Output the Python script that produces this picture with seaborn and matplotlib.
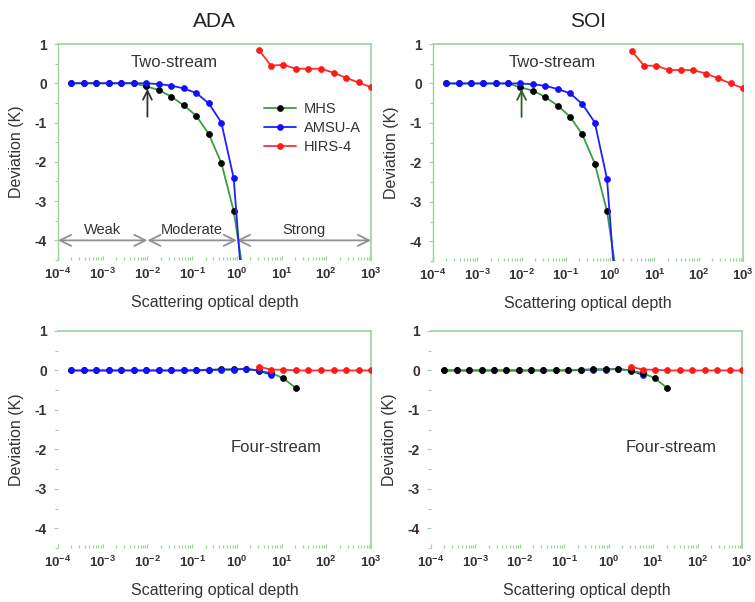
import numpy as np
import pandas as pd
import matplotlib
matplotlib.use("Agg")
import matplotlib.pyplot as plt
import seaborn as sns
from matplotlib.ticker import LogLocator, FixedLocator, NullFormatter

sns.set_theme(style="white")
plt.rcParams['font.family'] = ['Liberation Sans', 'DejaVu Sans']
plt.rcParams['mathtext.fontset'] = 'custom'
plt.rcParams['mathtext.rm'] = 'Liberation Sans'
plt.rcParams['mathtext.bf'] = 'Liberation Sans:bold'

# ---------------- data ----------------
tau = [2.0e-4, 3.8e-4, 7.2e-4, 1.37e-3, 2.6e-3, 5.0e-3, 9.4e-3, 0.018, 0.034,
       0.065, 0.124, 0.235, 0.45, 0.85, 1.6, 3.1, 5.8, 11, 21, 40, 76, 145,
       277, 526, 1000]

panels = ["ADA", "SOI"]
sensors = ["MHS", "AMSU-A", "HIRS-4"]

# Two-stream
ada2_mhs = [0, 0, 0, 0, 0, 0, -0.08, -0.17, -0.34, -0.56, -0.83, -1.29, -2.03, -3.25, -5.3]
ada2_amsu = [0, 0, 0, 0, 0, 0, 0, -0.02, -0.06, -0.13, -0.25, -0.51, -1.0, -2.42, -6.5]
ada2_hirs = [0.85, 0.45, 0.47, 0.37, 0.37, 0.37, 0.27, 0.14, 0.02, -0.1]
soi2_mhs = [0, 0, 0, 0, 0, 0, -0.1, -0.18, -0.34, -0.56, -0.84, -1.29, -2.03, -3.24, -5.3]
soi2_amsu = [0, 0, 0, 0, 0, 0, 0, -0.02, -0.06, -0.14, -0.25, -0.52, -0.99, -2.42, -6.5]
soi2_hirs = [0.82, 0.45, 0.45, 0.34, 0.34, 0.34, 0.25, 0.13, 0.0, -0.12]

# Four-stream
ada4_mhs = [0, 0, 0, 0, 0, 0, 0, 0, 0, 0, 0.01, 0.02, 0.03, 0.03, 0.04, -0.01, -0.06, -0.2, -0.45]
ada4_amsu = [0, 0, 0, 0, 0, 0, 0, 0, 0, 0, 0, 0.01, 0.02, 0.02, 0.04, 0.0, -0.11]
ada4_hirs = [0.1, 0.02, 0.02, 0, 0, 0, 0, 0, 0, 0]
soi4_mhs = [0, 0, 0, 0, 0, 0, 0, 0, 0, 0, 0.01, 0.02, 0.03, 0.03, 0.04, -0.01, -0.06, -0.2, -0.45]
soi4_amsu = [0, 0, 0, 0, 0, 0, 0, 0, 0, 0, 0, 0.01, 0.02, 0.02, 0.04, 0.0, -0.11]
soi4_hirs = [0.1, 0.02, 0.02, 0, 0, 0, 0, 0, 0, 0]

hirs_start = 15
x_ticks = [1e-4, 1e-3, 1e-2, 1e-1, 1e0, 1e1, 1e2, 1e3]
x_tick_labels = [r"$\mathbf{10^{-4}}$", r"$\mathbf{10^{-3}}$", r"$\mathbf{10^{-2}}$",
                 r"$\mathbf{10^{-1}}$", r"$\mathbf{10^{0}}$", r"$\mathbf{10^{1}}$",
                 r"$\mathbf{10^{2}}$", r"$\mathbf{10^{3}}$"]
y_ticks = [-4, -3, -2, -1, 0, 1]
y_tick_labels = ["-4", "-3", "-2", "-1", "0", "1"]
regimes = ["Weak", "Moderate", "Strong"]
regime_edges = [1e-4, 1e-2, 1e0, 1e3]

# ---------------- style ----------------
col_line = {"MHS": "#3a9e3a", "AMSU-A": "#1f1fff", "HIRS-4": "#ff3030"}
col_mark = {"MHS": "#000000", "AMSU-A": "#1010ff", "HIRS-4": "#ff1a1a"}
spine_green = "#9ed29e"
text_col = "#333333"

fig = plt.figure(figsize=(7.55, 6.02), dpi=100)
ax_pos = {
    (0, 0): [58 / 755, 1 - 260 / 602, 313 / 755, 216 / 602],
    (0, 1): [433 / 755, 1 - 261 / 602, 310 / 755, 217 / 602],
    (1, 0): [58 / 755, 1 - 548 / 602, 313 / 755, 217 / 602],
    (1, 1): [431 / 755, 1 - 548 / 602, 311 / 755, 217 / 602],
}

data = {
    (0, 0): (ada2_mhs, ada2_amsu, ada2_hirs),
    (0, 1): (soi2_mhs, soi2_amsu, soi2_hirs),
    (1, 0): (ada4_mhs, ada4_amsu, ada4_hirs),
    (1, 1): (soi4_mhs, soi4_amsu, soi4_hirs),
}


def draw_series(ax, xs, ys, name, z, label=None):
    df = pd.DataFrame({"x": xs, "y": ys})
    sns.lineplot(data=df, x="x", y="y", ax=ax, color=col_line[name], lw=1.3,
                 marker="o", markersize=4.3, markerfacecolor=col_mark[name],
                 markeredgecolor=col_mark[name], markeredgewidth=0.5,
                 zorder=z, label=label, estimator=None, sort=False)


for (r, c), pos in ax_pos.items():
    ax = fig.add_axes(pos)
    mhs, amsu, hirs = data[(r, c)]
    first = (r, c) == (0, 0)
    # SOI four-stream: MHS drawn above AMSU-A
    z_mhs, z_amsu = (4, 3) if (r, c) == (1, 1) else (3, 4)
    draw_series(ax, tau[:len(mhs)], mhs, "MHS", z_mhs, "MHS" if first else None)
    draw_series(ax, tau[:len(amsu)], amsu, "AMSU-A", z_amsu, "AMSU-A" if first else None)
    draw_series(ax, tau[hirs_start:hirs_start + len(hirs)], hirs, "HIRS-4", 5,
                "HIRS-4" if first else None)

    ax.set_xscale("log")
    ax.set_xlim(1e-4, 1e3)
    ax.set_ylim(-4.5, 1)
    ax.set_xticks(x_ticks)
    ax.set_xticklabels(x_tick_labels)
    ax.xaxis.set_minor_locator(LogLocator(base=10, subs=np.arange(2, 10), numticks=20))
    ax.xaxis.set_minor_formatter(NullFormatter())
    ax.set_yticks(y_ticks)
    ax.set_yticklabels(y_tick_labels)
    ax.yaxis.set_minor_locator(FixedLocator([-4.5, -3.5, -2.5, -1.5, -0.5, 0.5]))
    ax.tick_params(axis="both", which="both", bottom=True, left=True,
                   colors=spine_green, labelcolor=text_col, labelsize=9.5)
    ax.tick_params(axis="x", which="major", direction="in", length=3, width=0.9, pad=5)
    ax.tick_params(axis="x", which="minor", direction="in", length=2, width=0.9)
    ax.tick_params(axis="y", which="major", direction="out", length=3, width=0.8, pad=5)
    ax.tick_params(axis="y", which="minor", direction="out", length=2, width=0.8)
    for lab in ax.get_yticklabels():
        lab.set_fontweight("bold")
        lab.set_fontsize(10)
    for s in ["top", "right"]:
        ax.spines[s].set_color(spine_green)
        ax.spines[s].set_linewidth(1.2)
    ax.spines["left"].set_color(spine_green if r == 0 else "none")
    ax.spines["left"].set_linewidth(1.0)
    ax.spines["bottom"].set_visible(False)
    ax.set_xlabel("Scattering optical depth", fontsize=11.5, color=text_col, labelpad=9)
    ax.set_ylabel("Deviation (K)", fontsize=11.5, color=text_col, labelpad=8)

    if r == 0:
        ax.set_title(panels[c], fontsize=15, color="#222222", pad=12)
        ax.text(10 ** (-1.4 if c == 0 else -1.3), 0.53, "Two-stream", fontsize=12,
                color=text_col, ha="center", va="center")
        acol = "#333333" if c == 0 else "#2f5f2f"
        ax.annotate("", xy=(1e-2, -0.07), xytext=(1e-2, -0.92),
                    arrowprops=dict(arrowstyle="->", color=acol, lw=1.3,
                                    mutation_scale=16))
    else:
        ax.text(10 ** (0.88 if c == 0 else 1.4), -1.95, "Four-stream", fontsize=12,
                color=text_col, ha="center", va="center")

    if first:
        for i, name in enumerate(regimes):
            x0, x1 = regime_edges[i], regime_edges[i + 1]
            ax.annotate("", xy=(x1, -4), xytext=(x0, -4),
                        arrowprops=dict(arrowstyle="<->", color="#909090", lw=1.3,
                                        mutation_scale=20, shrinkA=0, shrinkB=0))
            xm = 10 ** ((np.log10(x0) + np.log10(x1)) / 2)
            ax.text(xm, -3.73, name, fontsize=10.5, color=text_col,
                    ha="center", va="center")
        leg = ax.legend(loc="upper left", bbox_to_anchor=(0.64, 0.76), frameon=False,
                        fontsize=10.5, handlelength=2.2, labelspacing=0.35,
                        handletextpad=0.5, borderaxespad=0)
        for t in leg.get_texts():
            t.set_color(text_col)
    else:
        lg = ax.get_legend()
        if lg is not None:
            lg.remove()

fig.savefig("out.png", dpi=100)
